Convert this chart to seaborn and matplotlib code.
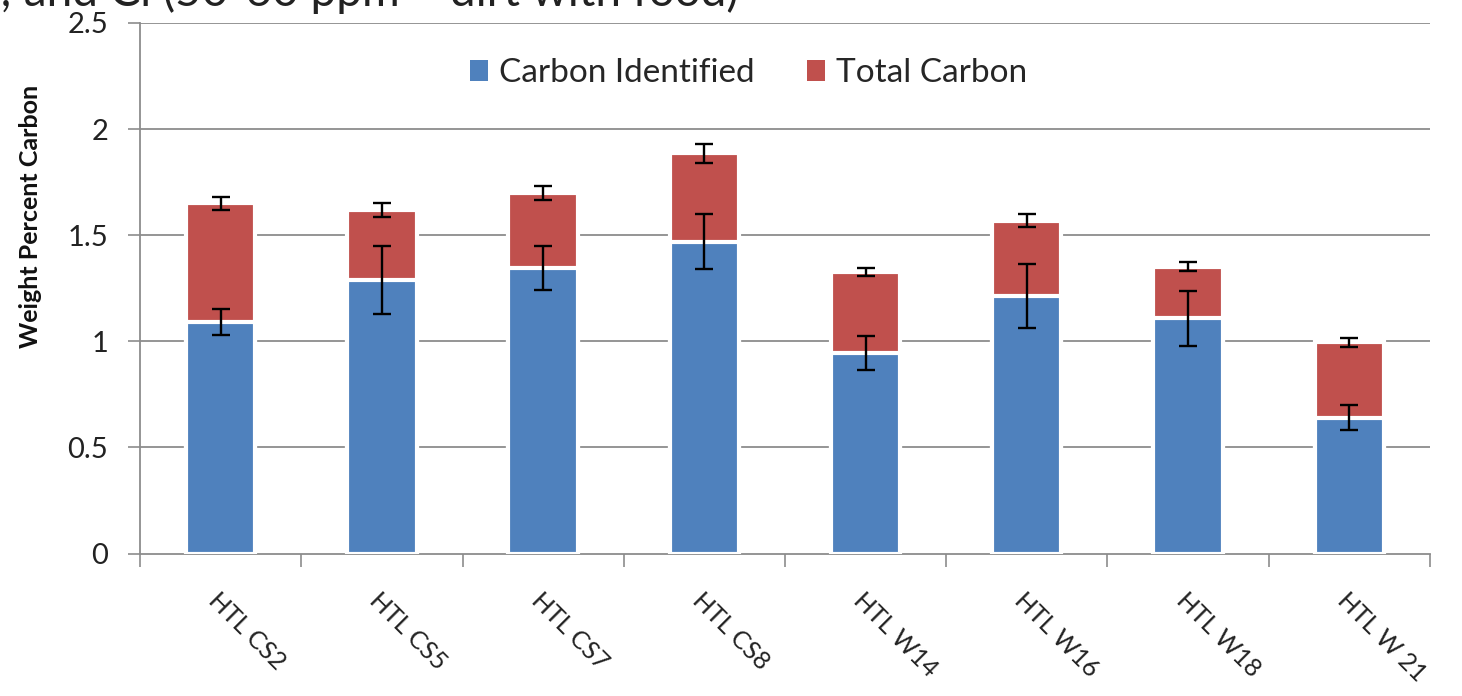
import matplotlib
matplotlib.use("Agg")
import matplotlib.pyplot as plt
import seaborn as sns
import numpy as np
import pandas as pd
from matplotlib.patches import Patch

samples = ["HTL CS2", "HTL CS5", "HTL CS7", "HTL CS8", "HTL W14", "HTL W16", "HTL W18", "HTL W 21"]
carbon_identified = [1.09, 1.29, 1.345, 1.47, 0.943, 1.215, 1.108, 0.64]
total_carbon = [1.65, 1.62, 1.70, 1.886, 1.327, 1.568, 1.352, 0.995]
err_identified = [0.06, 0.16, 0.105, 0.13, 0.08, 0.15, 0.13, 0.06]
err_total = [0.03, 0.032, 0.033, 0.045, 0.02, 0.031, 0.02, 0.022]
yticks = [0, 0.5, 1, 1.5, 2, 2.5]
ytick_labels = ["0", "0.5", "1", "1.5", "2", "2.5"]
series_names = ["Carbon Identified", "Total Carbon"]

BLUE = "#4F81BD"
RED = "#C0504D"

sns.set_theme(style="white")
plt.rcParams["font.family"] = ["Lato", "DejaVu Sans"]

df = pd.DataFrame({"sample": samples, "ident": carbon_identified, "total": total_carbon})

fig = plt.figure(figsize=(14.62, 6.96), dpi=100)
ax = fig.add_axes([0.0958, 0.2047, 0.978 - 0.0958, 0.967 - 0.2047])

ax.set_axisbelow(True)
for y in yticks[1:]:
    ax.axhline(y, color="#8c8c8c", lw=1.3, zorder=0)

sns.barplot(data=df, x="sample", y="total", color=RED, saturation=1, width=0.43,
            edgecolor="white", linewidth=3, ax=ax, zorder=2)
sns.barplot(data=df, x="sample", y="ident", color=BLUE, saturation=1, width=0.43,
            edgecolor="white", linewidth=3, ax=ax, zorder=3)

x = np.arange(len(samples))
ax.errorbar(x, total_carbon, yerr=err_total, fmt="none", ecolor="black", elinewidth=1.7,
            capsize=6.2, capthick=1.7, zorder=5)
ax.errorbar(x, carbon_identified, yerr=err_identified, fmt="none", ecolor="black", elinewidth=1.7,
            capsize=6.2, capthick=1.7, zorder=5)

ax.set_xlim(-0.5, len(samples) - 0.5)
ax.set_ylim(0, 2.5)
ax.set_yticks(yticks)
ax.set_yticklabels(ytick_labels, fontsize=21, color="#222222")
ax.set_xticks(x)
ax.set_xticklabels(samples, rotation=-45, ha="left", va="top", rotation_mode="anchor",
                   fontsize=18, color="#222222")
ax.tick_params(axis="x", which="major", length=0, pad=25)
ax.set_xticks(np.arange(-0.5, len(samples)), minor=True)
ax.tick_params(axis="x", which="minor", length=9, width=1.2, color="#8c8c8c", direction="out", bottom=True)
ax.tick_params(axis="y", which="major", length=9, width=1.2, color="#8c8c8c", direction="out", left=True, pad=14)

for side in ["top", "right"]:
    ax.spines[side].set_visible(False)
for side in ["left", "bottom"]:
    ax.spines[side].set_color("#8c8c8c")
    ax.spines[side].set_linewidth(1.3)

ax.set_xlabel("")
ax.set_ylabel("Weight Percent Carbon", fontsize=18, fontweight="bold", color="#111111")
ax.yaxis.set_label_coords(-0.076, 0.635)

handles = [Patch(facecolor=BLUE, edgecolor="none"), Patch(facecolor=RED, edgecolor="none")]
ax.legend(handles, series_names, loc="upper center", bbox_to_anchor=(0.4717, 0.99), ncol=2,
          frameon=False, fontsize=24, handlelength=0.55, handleheight=0.55, handletextpad=0.33,
          columnspacing=1.55)

fig.text(0.0, 1 - 6 / 696, "; and Cl (50-60 ppm \u2013 dirt with food)", fontsize=33, va="baseline",
         ha="left", color="#222222")

fig.savefig("out.png", dpi=100)
